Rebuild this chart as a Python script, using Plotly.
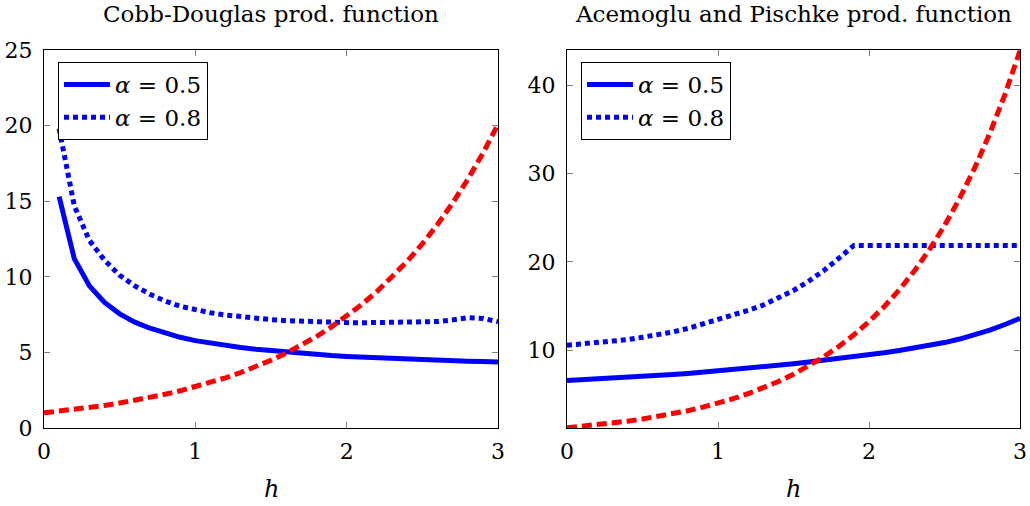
import plotly.graph_objects as go

h = [round(0.1 * i, 1) for i in range(31)]
h_cd = h[1:]

# Cobb-Douglas panel
cd_alpha05 = [15.3, 11.2, 9.4, 8.3, 7.55, 7.0, 6.6, 6.27, 6.0, 5.78,
              5.6, 5.45, 5.32, 5.21, 5.11, 5.02, 4.94, 4.86, 4.79, 4.73,
              4.68, 4.63, 4.58, 4.54, 4.5, 4.47, 4.44, 4.41, 4.39, 4.37]
cd_alpha08 = [19.8, 14.7, 12.4, 11.1, 10.1, 9.4, 8.85, 8.4, 8.05, 7.8,
              7.62, 7.47, 7.35, 7.25, 7.17, 7.1, 7.05, 7.01, 6.98, 6.97,
              6.96, 6.96, 6.97, 6.99, 7.01, 7.04, 7.15, 7.3, 7.25, 7.03]
cd_red = [1.0, 1.11, 1.22, 1.35, 1.49, 1.65, 1.82, 2.01, 2.23, 2.46,
          2.72, 3.0, 3.32, 3.67, 4.06, 4.48, 4.95, 5.47, 6.05, 6.69,
          7.39, 8.17, 9.03, 9.97, 11.02, 12.18, 13.46, 14.88, 16.44, 18.17, 20.09]

# Acemoglu and Pischke panel
ap_alpha05 = [6.55, 6.63, 6.71, 6.8, 6.89, 6.99, 7.1, 7.22, 7.35, 7.49,
              7.63, 7.78, 7.94, 8.1, 8.27, 8.45, 8.64, 8.83, 9.03, 9.24,
              9.45, 9.69, 9.95, 10.23, 10.53, 10.85, 11.25, 11.72, 12.27, 12.9, 13.6]
ap_alpha08 = [10.55, 10.68, 10.82, 10.98, 11.18, 11.45, 11.72, 12.05, 12.45, 12.95,
              13.45, 13.95, 14.5, 15.1, 15.9, 16.75, 17.8, 19.0, 20.4, 21.85,
              21.85, 21.85, 21.85, 21.85, 21.85, 21.85, 21.85, 21.85, 21.85, 21.85, 21.85]
ap_red = [1.2, 1.35, 1.53, 1.72, 1.94, 2.19, 2.47, 2.78, 3.13, 3.53,
          3.98, 4.49, 5.06, 5.71, 6.44, 7.26, 8.19, 9.23, 10.41, 11.73,
          13.23, 14.91, 16.82, 18.96, 21.38, 24.1, 27.18, 30.64, 34.55, 38.95, 43.92]

titles = ["Cobb-Douglas prod. function", "Acemoglu and Pischke prod. function"]
legend_labels = ["<i>α</i> = 0.5", "<i>α</i> = 0.8"]
x_ticks = [0, 1, 2, 3]
y_ticks_left = [0, 5, 10, 15, 20, 25]
y_ticks_right = [10, 20, 30, 40]

FONT = "DejaVu Serif, serif"
W, H = 1030, 506
BLUE = "#0000ff"
RED = "#ff0000"
SOLID_W = 5
DOT = "5px,4px"
DASH = "10px,5px"

fig = go.Figure()

# left panel
fig.add_trace(go.Scatter(x=h_cd, y=cd_alpha05, mode="lines", name=legend_labels[0],
                         line=dict(color=BLUE, width=SOLID_W), xaxis="x", yaxis="y", legend="legend"))
fig.add_trace(go.Scatter(x=h_cd, y=cd_alpha08, mode="lines", name=legend_labels[1],
                         line=dict(color=BLUE, width=SOLID_W, dash=DOT), xaxis="x", yaxis="y", legend="legend"))
fig.add_trace(go.Scatter(x=h, y=cd_red, mode="lines", showlegend=False,
                         line=dict(color=RED, width=SOLID_W, dash=DASH), xaxis="x", yaxis="y"))

# right panel
fig.add_trace(go.Scatter(x=h, y=ap_alpha05, mode="lines", name=legend_labels[0],
                         line=dict(color=BLUE, width=SOLID_W), xaxis="x2", yaxis="y2", legend="legend2"))
fig.add_trace(go.Scatter(x=h, y=ap_alpha08, mode="lines", name=legend_labels[1],
                         line=dict(color=BLUE, width=SOLID_W, dash=DOT), xaxis="x2", yaxis="y2", legend="legend2"))
fig.add_trace(go.Scatter(x=h, y=ap_red, mode="lines", showlegend=False,
                         line=dict(color=RED, width=SOLID_W, dash=DASH), xaxis="x2", yaxis="y2"))

# geometry (pixels)
L1, R1 = 44, 498
L2, R2 = 567, 1020
TOP, BOT = 50, 428

xd1 = [L1 / W, R1 / W]
xd2 = [L2 / W, R2 / W]
yd = [1 - BOT / H, 1 - TOP / H]

tickfont = dict(family=FONT, size=22, color="black")
axis_common = dict(showgrid=False, zeroline=False, showline=True, linecolor="black", linewidth=1,
                   mirror="ticks", ticks="inside", ticklen=6, tickcolor="#808080", tickwidth=1,
                   tickfont=tickfont, automargin=False, fixedrange=True)

legfont = dict(family=FONT, size=23, color="black")

fig.update_layout(
    width=W, height=H,
    margin=dict(l=0, r=0, t=0, b=0),
    paper_bgcolor="white", plot_bgcolor="white",
    font=dict(family=FONT, color="black"),
    xaxis=dict(domain=xd1, range=[0, 3], tickvals=x_ticks, anchor="y", ticklabelstandoff=4, **axis_common),
    yaxis=dict(domain=yd, range=[0, 25], tickvals=y_ticks_left, anchor="x", ticklabelstandoff=6, **axis_common),
    xaxis2=dict(domain=xd2, range=[0, 3], tickvals=x_ticks, anchor="y2", ticklabelstandoff=4, **axis_common),
    yaxis2=dict(domain=yd, range=[1.17, 44.0], tickvals=y_ticks_right, anchor="x2", ticklabelstandoff=6, **axis_common),
    legend=dict(x=58 / W, y=1 - 62 / H, xanchor="left", yanchor="top",
                bordercolor="black", borderwidth=1, bgcolor="white",
                font=legfont, tracegroupgap=0, itemwidth=46),
    legend2=dict(x=581 / W, y=1 - 62 / H, xanchor="left", yanchor="top",
                 bordercolor="black", borderwidth=1, bgcolor="white",
                 font=legfont, tracegroupgap=0, itemwidth=46),
    annotations=[
        dict(text=titles[0], x=(L1 + R1) / 2 / W, y=1 - 14 / H, xref="paper", yref="paper",
             showarrow=False, font=dict(family=FONT, size=23, color="black"), xanchor="center", yanchor="middle"),
        dict(text=titles[1], x=(L2 + R2) / 2 / W, y=1 - 14 / H, xref="paper", yref="paper",
             showarrow=False, font=dict(family=FONT, size=23, color="black"), xanchor="center", yanchor="middle"),
        dict(text="<i>h</i>", x=(L1 + R1) / 2 / W, y=1 - 489 / H, xref="paper", yref="paper",
             showarrow=False, font=dict(family=FONT, size=24, color="black"), xanchor="center", yanchor="middle"),
        dict(text="<i>h</i>", x=(L2 + R2) / 2 / W, y=1 - 489 / H, xref="paper", yref="paper",
             showarrow=False, font=dict(family=FONT, size=24, color="black"), xanchor="center", yanchor="middle"),
    ],
)

fig.write_html("out.html")
